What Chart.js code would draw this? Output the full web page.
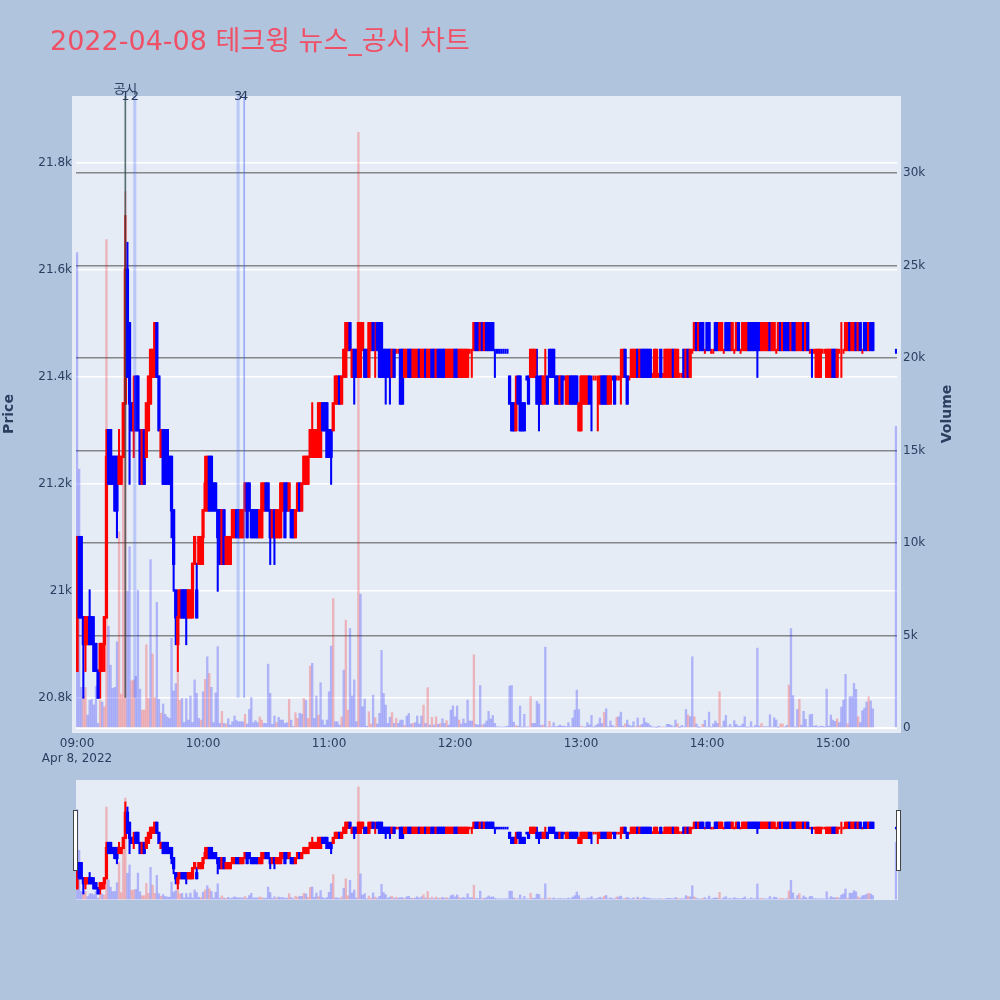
<!DOCTYPE html>
<html>
<head>
<meta charset="utf-8">
<title>테크윙 뉴스_공시 차트</title>
<script src="https://cdn.jsdelivr.net/npm/chart.js@4"></script>
<style>
  html, body { margin: 0; padding: 0; width: 1000px; height: 1000px; background: #B0C4DE; overflow: hidden; }
  canvas { position: absolute; left: 0; }
  #mainChart { top: 0; }
  #sliderChart { top: 780px; }
</style>
</head>
<body>
<canvas id="mainChart" width="1000" height="1000"></canvas>
<canvas id="sliderChart" width="1000" height="120"></canvas>
<script>
// one row = 10 minutes, index 0 = 09:00, index 390 = 15:30
const opens = [
  20850,21100,21100,20950,20900,20900,20950,20950,20900,20900,
  20850,20850,20850,20900,20950,21300,21300,21250,21250,21250,
  21200,21200,21250,21350,21600,21500,21350,21300,21400,21400,
  21300,21200,21300,21250,21300,21350,21400,21400,21500,21400,
  21250,21300,21300,21300,21250,21250,21150,21000,20900,20950,
  21000,21000,21000,20950,20950,20950,21050,21000,21050,21050,
  21100,21150,21150,21250,21250,21200,21200,21150,21150,21050,
  21150,21050,21050,21050,21100,21100,21150,21150,21100,21100,
  21150,21200,21200,21150,21150,21150,21150,21100,21100,21150,
  21200,21200,21150,21100,21150,21100,21100,21100,21150,21200,
  21200,21150,21150,21150,21100,21150,21200,21150,21200,21200,
  21200,21250,21250,21250,21250,21250,21250,21350,21350,21350,
  21300,21300,21300,21350,21350,21400,21350,21400,21400,21450,
  21500,21400,21450,21450,21400,21400,21450,21450,21450,21400,
  21450,21500,21445,21500,21500,21500,21450,21450,21450,21450,
  21400,21450,21445,21445,21450,21450,21400,21400,21450,21450,
  21400,21400,21400,21450,21400,21400,21450,21400,21400,21450,
  21450,21400,21450,21450,21450,21450,21400,21400,21400,21400,
  21450,21450,21400,21400,21400,21400,21400,21445,21445,21450,
  21500,21500,21450,21500,21450,21500,21500,21500,21500,21450,
  21450,21450,21450,21450,21450,21450,21400,21350,21350,21300,
  21400,21400,21350,21350,21400,21400,21400,21400,21400,21400,
  21400,21400,21350,21400,21400,21450,21450,21450,21400,21400,
  21350,21400,21400,21350,21350,21400,21400,21400,21400,21300,
  21300,21350,21350,21350,21400,21400,21395,21395,21395,21350,
  21400,21400,21400,21350,21350,21400,21400,21395,21395,21400,
  21400,21450,21400,21395,21400,21400,21400,21450,21400,21450,
  21450,21450,21450,21450,21400,21400,21400,21400,21450,21400,
  21400,21400,21400,21400,21450,21400,21400,21400,21400,21450,
  21400,21450,21400,21445,21450,21500,21450,21500,21500,21445,
  21500,21500,21445,21445,21500,21500,21450,21450,21445,21500,
  21500,21500,21450,21445,21450,21500,21445,21450,21450,21450,
  21500,21500,21500,21500,21500,21500,21450,21450,21450,21450,
  21500,21450,21450,21445,21450,21500,21450,21500,21500,21500,
  21450,21500,21500,21450,21450,21450,21500,21450,21500,21445,
  21450,21445,21400,21400,21400,21445,21445,21400,21400,21400,
  21450,21450,21400,21445,21445,21445,21450,21450,21500,21450,
  21450,21500,21450,21500,21445,21500,21500,21450,21500,21500,
  null,null,null,null,null,null,null,null,null,null,
  21450
];
const closes = [
  21100,20950,20950,20900,20950,20950,20900,20900,20850,20850,
  20800,20900,20900,20950,21250,21200,21200,21200,21150,21150,
  21250,21250,21350,21600,21400,21350,21300,21350,21300,21300,
  21200,21300,21200,21350,21400,21450,21450,21500,21400,21300,
  21300,21200,21200,21200,21200,21150,21050,20950,20950,21000,
  20950,20950,20950,21000,21000,21050,21100,20950,21100,21100,
  21150,21200,21250,21150,21150,21150,21150,21100,21050,21150,
  21050,21100,21100,21100,21150,21150,21100,21100,21150,21150,
  21200,21100,21150,21100,21100,21100,21100,21150,21200,21200,
  21150,21150,21100,21150,21100,21150,21150,21200,21200,21100,
  21150,21200,21100,21100,21150,21200,21150,21200,21250,21250,
  21250,21300,21300,21300,21300,21350,21350,21300,21300,21250,
  21250,21250,21350,21400,21400,21350,21400,21450,21500,21500,
  21450,21450,21400,21400,21500,21500,21500,21400,21400,21500,
  21500,21450,21450,21450,21400,21400,21400,21400,21400,21400,
  21450,21400,21450,21450,21350,21350,21450,21450,21400,21400,
  21450,21450,21450,21400,21450,21450,21400,21450,21450,21400,
  21400,21450,21400,21400,21400,21400,21450,21450,21450,21450,
  21400,21400,21450,21450,21450,21450,21450,21450,21450,21500,
  21450,21450,21500,21450,21500,21450,21450,21450,21450,21445,
  21445,21445,21445,21445,21445,21445,21350,21300,21300,21350,
  21350,21300,21300,21300,21395,21350,21450,21450,21450,21350,
  21395,21350,21400,21405,21350,21400,21400,21400,21350,21350,
  21400,21350,21395,21400,21400,21350,21350,21350,21350,21350,
  21400,21400,21400,21400,21350,21395,21400,21400,21400,21400,
  21350,21350,21350,21400,21400,21395,21350,21400,21400,21405,
  21450,21400,21350,21400,21450,21450,21450,21400,21450,21400,
  21400,21400,21400,21400,21405,21450,21450,21405,21400,21405,
  21450,21450,21450,21450,21400,21450,21450,21405,21405,21400,
  21450,21400,21450,21450,21500,21450,21500,21450,21450,21450,
  21450,21450,21450,21450,21450,21450,21500,21500,21450,21450,
  21450,21450,21500,21450,21500,21450,21450,21500,21500,21500,
  21450,21450,21450,21450,21450,21450,21500,21500,21500,21500,
  21450,21500,21500,21450,21500,21450,21500,21450,21450,21450,
  21500,21450,21450,21500,21500,21500,21450,21500,21450,21450,
  21445,21450,21450,21450,21450,21450,21450,21450,21450,21450,
  21400,21400,21450,21450,21450,21450,21500,21500,21450,21500,
  21500,21450,21500,21450,21450,21450,21450,21500,21450,21450,
  null,null,null,null,null,null,null,null,null,null,
  21445
];
const highs = [
  21100,21100,21100,20950,20950,20950,21000,20950,20950,20900,
  20850,20900,20900,20950,21300,21300,21300,21250,21250,21250,
  21300,21250,21350,21700,21650,21500,21350,21400,21400,21400,
  21300,21300,21300,21350,21400,21450,21450,21500,21500,21400,
  21300,21300,21300,21300,21250,21250,21150,21000,21000,21000,
  21000,21000,21000,21000,21000,21050,21100,21050,21100,21100,
  21150,21250,21250,21250,21250,21200,21200,21150,21150,21150,
  21150,21100,21100,21100,21150,21150,21150,21150,21150,21150,
  21200,21200,21200,21150,21150,21150,21150,21150,21200,21200,
  21200,21200,21150,21150,21150,21150,21150,21200,21200,21200,
  21200,21200,21150,21150,21150,21200,21200,21200,21250,21250,
  21250,21300,21350,21300,21300,21350,21350,21350,21350,21350,
  21300,21300,21350,21400,21400,21400,21400,21450,21500,21500,
  21500,21450,21450,21450,21500,21500,21500,21450,21450,21500,
  21500,21500,21500,21500,21500,21500,21450,21450,21450,21450,
  21450,21450,21450,21450,21450,21450,21450,21450,21450,21450,
  21450,21450,21450,21450,21450,21450,21450,21450,21450,21450,
  21450,21450,21450,21450,21450,21450,21450,21450,21450,21450,
  21450,21450,21450,21450,21450,21450,21450,21450,21450,21500,
  21500,21500,21500,21500,21500,21500,21500,21500,21500,21450,
  21450,21450,21450,21450,21450,21450,21400,21350,21350,21400,
  21400,21400,21350,21350,21400,21400,21450,21450,21450,21450,
  21400,21400,21400,21450,21400,21450,21450,21450,21400,21400,
  21400,21400,21400,21400,21400,21400,21400,21400,21400,21350,
  21400,21400,21400,21400,21400,21400,21400,21400,21400,21400,
  21400,21400,21400,21400,21400,21400,21400,21400,21400,21450,
  21450,21450,21400,21400,21450,21450,21450,21450,21450,21450,
  21450,21450,21450,21450,21405,21450,21450,21405,21450,21405,
  21450,21450,21450,21450,21450,21450,21450,21405,21405,21450,
  21450,21450,21450,21450,21500,21500,21500,21500,21500,21450,
  21500,21500,21450,21450,21500,21500,21500,21500,21450,21500,
  21500,21500,21500,21450,21500,21500,21450,21500,21500,21500,
  21500,21500,21500,21500,21500,21500,21500,21500,21500,21500,
  21500,21500,21500,21450,21500,21500,21500,21500,21500,21500,
  21500,21500,21500,21500,21500,21500,21500,21500,21500,21450,
  21450,21450,21450,21450,21450,21450,21450,21450,21450,21450,
  21450,21450,21450,21450,21500,21450,21500,21500,21500,21500,
  21500,21500,21500,21500,21450,21500,21500,21500,21500,21500,
  null,null,null,null,null,null,null,null,null,null,
  21450
];
const lows = [
  20850,20950,20950,20800,20850,20900,20900,20900,20850,20850,
  20800,20800,20850,20850,20950,21200,21200,21200,21150,21100,
  21200,21200,21250,21350,21400,21200,21300,21250,21300,21300,
  21200,21200,21200,21250,21300,21350,21400,21400,21400,21300,
  21250,21200,21200,21200,21200,21100,21000,20900,20850,20950,
  20950,20950,20900,20950,20950,20950,21050,20950,21050,21050,
  21050,21150,21150,21150,21150,21150,21150,21000,21050,21050,
  21050,21050,21050,21050,21100,21100,21100,21100,21100,21100,
  21150,21100,21150,21100,21100,21100,21100,21100,21100,21150,
  21150,21150,21050,21100,21050,21100,21100,21100,21150,21100,
  21150,21150,21100,21100,21100,21150,21150,21150,21200,21200,
  21200,21250,21250,21250,21250,21250,21250,21300,21300,21250,
  21250,21200,21300,21350,21350,21350,21350,21400,21400,21450,
  21450,21400,21350,21400,21400,21400,21450,21400,21400,21400,
  21450,21450,21400,21450,21400,21400,21400,21350,21400,21350,
  21400,21400,21445,21445,21350,21350,21400,21400,21400,21400,
  21400,21400,21400,21400,21400,21400,21400,21400,21400,21400,
  21400,21400,21400,21400,21400,21400,21400,21400,21400,21400,
  21400,21400,21400,21400,21400,21400,21400,21445,21400,21450,
  21450,21450,21450,21450,21450,21450,21450,21450,21450,21400,
  21445,21445,21445,21445,21445,21445,21350,21300,21300,21300,
  21350,21300,21300,21300,21395,21350,21400,21400,21400,21350,
  21300,21350,21350,21350,21350,21400,21400,21400,21350,21350,
  21350,21350,21395,21350,21350,21350,21350,21350,21350,21300,
  21300,21350,21350,21350,21350,21300,21395,21395,21300,21350,
  21350,21350,21350,21350,21350,21395,21350,21395,21395,21350,
  21400,21400,21350,21395,21400,21400,21400,21400,21400,21400,
  21400,21400,21400,21400,21400,21400,21400,21400,21400,21400,
  21400,21400,21400,21400,21400,21400,21400,21400,21400,21400,
  21400,21400,21400,21445,21450,21450,21450,21450,21450,21445,
  21450,21450,21445,21445,21450,21450,21450,21450,21445,21450,
  21450,21450,21450,21445,21450,21450,21445,21450,21450,21450,
  21450,21450,21450,21450,21400,21450,21450,21450,21450,21450,
  21450,21450,21450,21445,21450,21450,21450,21450,21450,21450,
  21450,21450,21450,21450,21450,21450,21450,21450,21450,21445,
  21400,21445,21400,21400,21400,21445,21445,21400,21400,21400,
  21400,21400,21400,21445,21400,21445,21450,21450,21450,21450,
  21450,21450,21450,21450,21445,21450,21450,21450,21450,21450,
  null,null,null,null,null,null,null,null,null,null,
  21445
];
const volumes = [
  25700,14000,2200,1700,2200,700,1500,1550,1250,2250,
  250,1500,1400,1150,26400,5500,3400,2150,2200,4660,
  10600,1840,16800,29000,7400,9800,2550,2600,2800,7450,
  2100,970,970,4500,1600,9100,4000,1650,6800,1550,
  800,1300,740,600,520,4850,2000,2400,3100,1500,
  1600,300,1600,430,1730,300,2600,1870,520,430,
  1960,2630,3850,2950,2200,290,1900,4400,250,900,
  250,220,500,160,340,650,400,340,340,340,
  740,220,1000,1650,290,400,290,600,430,250,
  250,3450,1870,200,650,290,580,430,430,250,
  290,1550,430,80,830,520,800,760,1600,1500,
  520,3350,3500,520,1730,700,2450,430,160,430,
  1960,4430,7000,340,340,160,600,3130,5830,970,
  5380,1730,2600,340,32200,7240,1150,1570,100,880,
  220,1780,560,220,790,4200,1870,1240,250,580,
  830,250,520,250,430,430,140,650,790,220,
  250,290,650,220,650,1240,250,2180,160,580,
  160,610,200,250,500,250,400,160,970,1200,
  610,1190,430,220,490,250,1510,380,380,3960,
  200,160,2300,160,220,380,900,490,680,250,
  70,50,50,50,70,100,2270,2300,320,130,
  100,1190,40,740,50,50,1690,250,250,1440,
  1300,140,160,4370,50,360,70,290,70,100,
  160,100,100,70,290,70,540,970,2050,1000,
  100,70,40,290,160,680,40,130,220,540,
  250,850,1040,70,380,140,70,580,610,860,
  100,220,430,160,100,340,70,540,130,200,
  540,300,250,140,40,50,20,100,50,50,
  50,200,200,140,70,430,230,20,140,70,
  1000,700,610,3850,610,220,20,50,200,410,
  50,860,40,220,380,250,1960,40,380,680,
  70,200,50,400,200,100,100,220,610,40,
  40,340,50,140,4320,100,250,70,70,70,
  720,50,560,430,20,220,220,40,140,2320,
  5380,1750,40,1000,1550,160,900,470,50,720,
  750,100,140,40,100,100,40,2100,100,700,
  430,360,490,290,1130,1510,2900,220,1690,1690,
  2410,2090,610,290,940,1080,1400,1690,1460,1040,
  null,null,null,null,null,null,null,null,null,null,
  16300
];
const redVolumeMinutes = [3,4,11,13,14,20,21,22,23,26,27,31,32,33,34,36,37,40,48,49,59,61,63,69,71,80,87,88,95,
  101,104,105,108,110,111,115,122,126,128,129,134,139,140,142,150,152,156,160,165,167,169,171,173,176,182,189,193,
  209,216,222,225,240,251,257,261,266,268,279,286,291,294,298,306,326,335,336,339,344,362,367,372,377];

const priceTicks = [20800, 21000, 21200, 21400, 21600, 21800];
const priceTickLabels = ["20.8k", "21k", "21.2k", "21.4k", "21.6k", "21.8k"];
const volumeTicks = [0, 5000, 10000, 15000, 20000, 25000, 30000];
const volumeTickLabels = ["0", "5k", "10k", "15k", "20k", "25k", "30k"];
const hourTicks = [0, 60, 120, 180, 240, 300, 360];
const hourTickLabels = [["09:00", "Apr 8, 2022"], "10:00", "11:00", "12:00", "13:00", "14:00", "15:00"];

const noticeMinutes = [23, 27.5, 76.7, 79.6];
const noticeLabels = ["1", "2", "3", "4"];

const PRICE_MIN = 20733.6, PRICE_MAX = 21925;
const VOLUME_MIN = -270, VOLUME_MAX = 34162;
const INK = "#2a3f5f";
const FONT = "'DejaVu Sans', 'Noto Sans CJK KR', sans-serif";

function candleColor(ctx) {
  const i = ctx.raw.x;
  return closes[i] >= opens[i] ? "#ff0000" : "#0000ff";
}

// pad = half of the candle outline, in price units
function candlePoints(pad) {
  const body = [], wick = [], vol = [];
  opens.forEach((o, i) => {
    if (o === null) return;
    const top = Math.max(o, closes[i]), bottom = Math.min(o, closes[i]);
    if (top - bottom > 5) body.push({ x: i, y: [bottom - pad, top + pad] });
    wick.push({ x: i, y: [lows[i] - pad, highs[i] + pad] });
    vol.push({ x: i, y: volumes[i] });
  });
  return { body, wick, vol };
}

function priceDatasets(pad) {
  const pts = candlePoints(pad);
  return [
    { data: pts.vol, yAxisID: "y2", order: 3, barThickness: 1.7,
      backgroundColor: ctx => redVolumeMinutes.includes(ctx.raw.x) ? "rgba(255,0,0,0.24)" : "rgba(0,0,255,0.24)" },
    { data: pts.wick, yAxisID: "y", order: 2, barThickness: 1.4, backgroundColor: candleColor },
    { data: pts.body, yAxisID: "y", order: 1, barThickness: 2.6, backgroundColor: candleColor }
  ];
}

function noticeDatasets() {
  const widths = [1, 2.4, 2.4, 1];
  const colors = ["rgba(40,70,70,0.75)", "rgba(60,90,255,0.25)", "rgba(60,90,255,0.25)", "rgba(60,90,255,0.45)"];
  return noticeMinutes.map((m, i) => ({
    data: [{ x: m, y: [20800, PRICE_MAX] }],
    yAxisID: "y", order: 0, barThickness: widths[i], backgroundColor: colors[i]
  }));
}

// 플롯 배경
const plotBackground = {
  id: "plotBackground",
  beforeDraw(chart, args, opts) {
    const a = chart.chartArea, c = chart.ctx;
    c.save();
    c.fillStyle = "#E5ECF6";
    c.fillRect(opts.left, a.top, opts.right - opts.left, opts.bottom - a.top);
    c.restore();
  }
};

// 제목, 축 제목, 공시 번호
const chartTexts = {
  id: "chartTexts",
  afterDraw(chart) {
    const c = chart.ctx, xs = chart.scales.x;
    c.save();
    c.textBaseline = "middle";
    c.textAlign = "left";
    c.fillStyle = "#EF5066";
    c.font = "27px " + FONT;
    c.fillText("2022-04-08 테크윙 뉴스_공시 차트", 50, 43);

    c.fillStyle = INK;
    c.textAlign = "center";
    c.font = "13px " + FONT;
    noticeLabels.forEach((t, i) => c.fillText(t, xs.getPixelForValue(noticeMinutes[i]), 97));
    c.fillText("공시", xs.getPixelForValue(noticeMinutes[0]), 90);

    c.font = "bold 14px " + FONT;
    [["Price", 9], ["Volume", 947]].forEach(([t, x]) => {
      c.save();
      c.translate(x, 414);
      c.rotate(-Math.PI / 2);
      c.fillText(t, 0, 0);
      c.restore();
    });
    c.restore();
  }
};

new Chart(document.getElementById("mainChart"), {
  type: "bar",
  data: { datasets: priceDatasets(1.5).concat(noticeDatasets()) },
  options: {
    responsive: false,
    animation: false,
    devicePixelRatio: 1,
    layout: { padding: { top: 96 } },
    datasets: { bar: { grouped: false } },
    plugins: {
      legend: { display: false },
      tooltip: { enabled: false },
      plotBackground: { left: 72, right: 901, bottom: 733 }
    },
    scales: {
      x: {
        type: "linear", offset: false, min: -0.5, max: 390.5,
        grid: { display: false, drawTicks: false }, border: { display: false },
        afterBuildTicks: s => { s.ticks = hourTicks.map(v => ({ value: v })); },
        afterFit: s => { s.height = 267; },
        ticks: {
          autoSkip: false, maxRotation: 0, padding: 3, color: INK,
          font: { family: FONT, size: 12, lineHeight: 1.25 },
          callback: v => hourTickLabels[hourTicks.indexOf(v)]
        }
      },
      y: {
        position: "left", min: PRICE_MIN, max: PRICE_MAX,
        grid: { color: "#ffffff", lineWidth: 1.5, drawTicks: false }, border: { display: false },
        afterBuildTicks: s => { s.ticks = priceTicks.map(v => ({ value: v })); },
        afterFit: s => { s.width = 76; },
        ticks: {
          padding: 4, color: INK, font: { family: FONT, size: 12 },
          callback: v => priceTickLabels[priceTicks.indexOf(v)]
        }
      },
      y2: {
        position: "right", min: VOLUME_MIN, max: VOLUME_MAX,
        grid: {
          drawTicks: false,
          color: ctx => ctx.tick.value === 0 ? "#ffffff" : "rgba(80,80,80,0.65)",
          lineWidth: ctx => ctx.tick.value === 0 ? 2 : 1.4
        },
        border: { display: false },
        afterBuildTicks: s => { s.ticks = volumeTicks.map(v => ({ value: v })); },
        afterFit: s => { s.width = 103; },
        ticks: {
          padding: 6, color: INK, font: { family: FONT, size: 12 },
          callback: v => volumeTickLabels[volumeTicks.indexOf(v)]
        }
      }
    }
  },
  plugins: [plotBackground, chartTexts]
});

// 레인지 슬라이더 손잡이
const sliderHandles = {
  id: "sliderHandles",
  afterDraw(chart) {
    const c = chart.ctx;
    c.save();
    c.fillStyle = "#ffffff";
    c.strokeStyle = "#444444";
    c.lineWidth = 1;
    [73.5, 896.5].forEach(x => {
      c.fillRect(x, 30.5, 4, 60);
      c.strokeRect(x, 30.5, 4, 60);
    });
    c.restore();
  }
};

new Chart(document.getElementById("sliderChart"), {
  type: "bar",
  data: { datasets: priceDatasets(7) },
  options: {
    responsive: false,
    animation: false,
    devicePixelRatio: 1,
    layout: { padding: { left: 76, right: 103 } },
    datasets: { bar: { grouped: false } },
    plugins: {
      legend: { display: false },
      tooltip: { enabled: false },
      plotBackground: { left: 76, right: 898, bottom: 120 }
    },
    scales: {
      x: { type: "linear", offset: false, min: -0.5, max: 390.5, display: false },
      y: { min: PRICE_MIN, max: PRICE_MAX, display: false },
      y2: { position: "right", min: VOLUME_MIN, max: VOLUME_MAX, display: false }
    }
  },
  plugins: [plotBackground, sliderHandles]
});
</script>
</body>
</html>
